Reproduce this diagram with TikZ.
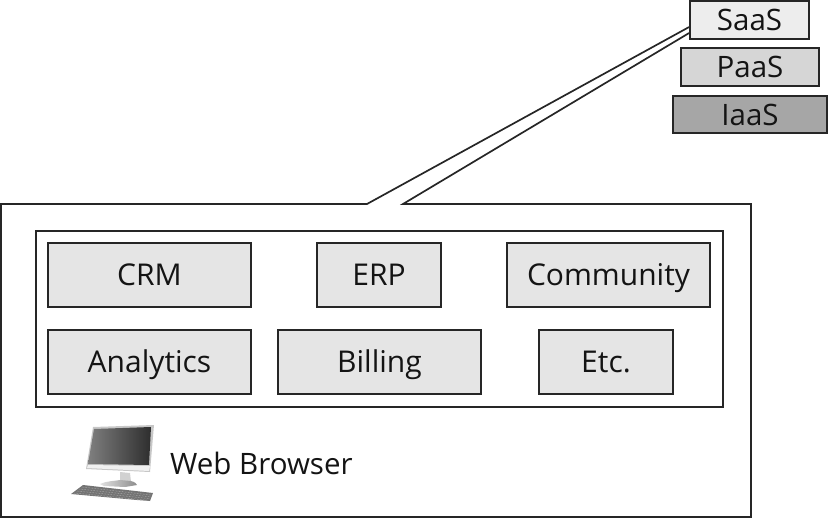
\documentclass[tikz,border=0pt]{standalone}
\usepackage{fontspec}
\setmainfont{Open Sans}
\begin{document}
\begin{tikzpicture}[x=1pt,y=-1pt,
  line/.style={draw=black!85,line width=1.7pt},
  capcenter/.style={text height=21pt,text depth=0pt},
  modbox/.style={line,fill=black!10,inner sep=0pt,capcenter,font=\fontsize{30}{32}\selectfont,text=black!92},
  stackbox/.style={line,inner sep=0pt,capcenter,font=\fontsize{29.5}{32}\selectfont,text=black!92},
  lbl/.style={inner sep=0pt,font=\fontsize{29.5}{32}\selectfont,text=black!92}]
\useasboundingbox (0,0) rectangle (828,519);
\def\pbox#1#2#3#4#5#6#7{\node[#1,minimum width=#5-#3,minimum height=#6-#4,anchor=center] (#2) at ({(#3+#5)/2},{(#4+#6)/2}) {#7};}
\pbox{stackbox,fill=black!7}{saas}{690}{1}{809}{39}{SaaS}
\pbox{stackbox,fill=black!16}{paas}{681}{48}{819}{86}{PaaS}
\pbox{stackbox,fill=black!35}{iaas}{673}{96}{827}{133}{IaaS}
\coordinate (tipa) at (saas.west |- 0,27);
\coordinate (tipb) at (saas.west |- 0,33);
\coordinate (ca) at (367,204);
\coordinate (cb) at (403,204);
\coordinate (tl) at (1,204);
\coordinate (tr) at (751,204);
\coordinate (br) at (751,517);
\coordinate (bl) at (1,517);
\draw[line,line join=miter] (tipa) -- (ca) -- (tl) -- (bl) -- (br) -- (tr) -- (cb) -- (tipb);
\pbox{line,fill=white}{inner}{36}{231}{723}{407}{}
\pbox{modbox}{crm}{48}{243}{251}{307}{CRM}
\pbox{modbox}{erp}{317}{243}{441}{307}{ERP}
\pbox{modbox}{comm}{507}{243}{710}{307}{Community}
\pbox{modbox}{ana}{48}{330}{251}{394}{Analytics}
\pbox{modbox}{bill}{278}{330}{481}{394}{Billing}
\pbox{modbox}{etc}{539}{330}{673}{394}{Etc.}
\node[lbl,anchor=west] (web) at (170,463) {Web Browser};
% computer icon
\fill[black!22] (93,427) -- (154,425) -- (150,472) -- (86,469) -- cycle;
\fill[black!6] (88,465) -- (150,466) -- (149,471) -- (87,468) -- cycle;
\shade[left color=black!50,right color=black!82] (94,429) -- (151,427) -- (149,465) -- (88,464) -- cycle;
\fill[black!18] (120,472) -- (130,473) -- (131,482) -- (120,482) -- cycle;
\shade[left color=black!12,right color=black!45] (100,484) .. controls (106,481) and (115,481) .. (120,480) -- (131,481) .. controls (135,482) and (137,484) .. (137,485) -- (125,487) -- (104,486) -- cycle;
\fill[black!55] (83,485) -- (153,493) -- (150,501) -- (137,500) -- (71,494) -- cycle;
\foreach \y in {0,1,2,3}{\draw[black!25,line width=.5pt,densely dotted] ({82-\y*2.5},{487+\y*2}) -- ({151-\y*.8},{495+\y*1.8});}
\end{tikzpicture}
\end{document}
